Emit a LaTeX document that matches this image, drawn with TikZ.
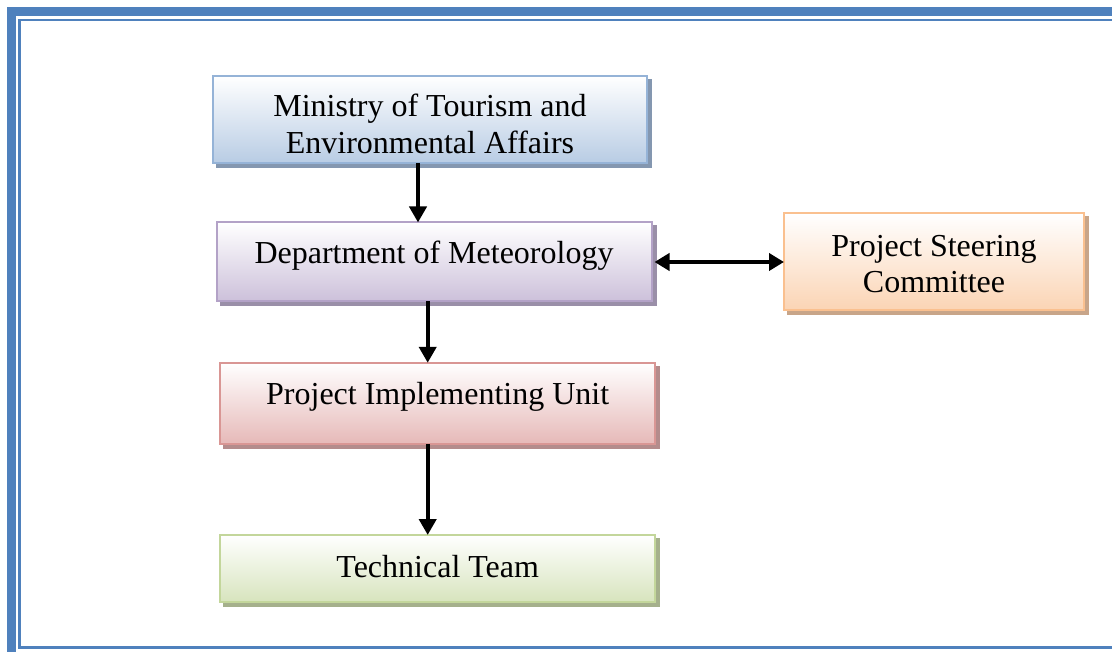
\documentclass[tikz,border=0pt]{standalone}
\usepackage{fontspec}
\setmainfont{Liberation Serif}
\usetikzlibrary{arrows.meta}
\definecolor{frameblue}{HTML}{4F81BD}
\definecolor{bluebd}{HTML}{95B3D7}\definecolor{bluebot}{HTML}{B8CCE4}\definecolor{blueshd}{HTML}{8497B0}
\definecolor{purpbd}{HTML}{B3A2C7}\definecolor{purpbot}{HTML}{CCC0DA}\definecolor{purpshd}{HTML}{9A8FA8}
\definecolor{redbd}{HTML}{D99694}\definecolor{redbot}{HTML}{E6B9B8}\definecolor{redshd}{HTML}{B48C8C}
\definecolor{grnbd}{HTML}{C3D69B}\definecolor{grnbot}{HTML}{D7E4BD}\definecolor{grnshd}{HTML}{A5B08C}
\definecolor{orgbd}{HTML}{FAC08F}\definecolor{orgbot}{HTML}{FBD4B4}\definecolor{orgshd}{HTML}{C8A589}
\begin{document}
\begin{tikzpicture}[x=1pt,y=-1pt,
  boxshape/.style={rectangle,inner sep=0pt,outer sep=0pt,line width=2pt},
  shadowbox/.style={rectangle,inner sep=0pt,outer sep=0pt,draw=none},
  lbl/.style={anchor=base,inner sep=0pt,font=\fontsize{32}{37}\selectfont},
  arr/.style={line width=4pt,-{Triangle[length=16pt,width=17pt]}},
  biarr/.style={line width=4pt,{Triangle[length=15pt,width=17pt]}-{Triangle[length=15pt,width=17pt]}}]
\useasboundingbox (0,0) rectangle (1112,652);
\fill[white] (0,0) rectangle (1112,652);
\begin{scope}
\clip (0,0) rectangle (1112,652);
\draw[frameblue,line width=9pt] (11.5,1200) -- (11.5,12) -- (1300,12);
\draw[frameblue,line width=2.8pt] (1300,20) -- (19.5,20) -- (19.5,647.5) -- (1300,647.5);
\end{scope}
% shadows
\node[shadowbox,fill=blueshd,minimum width=436pt,minimum height=89pt] (mins) at (434,123.5) {};
\node[shadowbox,fill=purpshd,minimum width=437pt,minimum height=81pt] (depts) at (438,266) {};
\node[shadowbox,fill=orgshd,minimum width=302pt,minimum height=99pt] (pscs) at (938,266) {};
\node[shadowbox,fill=redshd,minimum width=437pt,minimum height=83pt] (pius) at (441.7,407.3) {};
\node[shadowbox,fill=grnshd,minimum width=437pt,minimum height=69pt] (techs) at (441.7,572.5) {};
% boxes
\node[boxshape,draw=bluebd,top color=white,bottom color=bluebot,minimum width=434pt,minimum height=87pt] (min) at (430,119.5) {};
\node[boxshape,draw=purpbd,top color=white,bottom color=purpbot,minimum width=435pt,minimum height=79pt] (dept) at (434,262) {};
\node[boxshape,draw=orgbd,top color=white,bottom color=orgbot,minimum width=300pt,minimum height=97pt] (psc) at (934,262) {};
\node[boxshape,draw=redbd,top color=white,bottom color=redbot,minimum width=435pt,minimum height=81pt] (piu) at (437.7,403.3) {};
\node[boxshape,draw=grnbd,top color=white,bottom color=grnbot,minimum width=435pt,minimum height=67pt] (tech) at (437.7,568.5) {};
% labels
\node[lbl] (mint1) at (430,117) {Ministry of Tourism and};
\node[lbl] (mint2) at (430,153.5) {Environmental Affairs};
\node[lbl] (deptt) at (434,263.5) {Department of Meteorology};
\node[lbl] (psct1) at (934,256.5) {Project Steering};
\node[lbl] (psct2) at (934,293) {Committee};
\node[lbl] (piut) at (437.7,404.5) {Project Implementing Unit};
\node[lbl] (techt) at (437.7,577) {Technical Team};
% connectors
\draw[arr] ([xshift=-12pt]min.south) -- ([xshift=-16pt]dept.north);
\draw[arr] ([xshift=-6.3pt]dept.south) -- ([xshift=-10pt]piu.north);
\draw[arr] ([xshift=-10pt]piu.south) -- ([xshift=-10pt]tech.north);
\draw[biarr] ([xshift=3pt]dept.east) -- (psc.west);
\end{tikzpicture}
\end{document}
